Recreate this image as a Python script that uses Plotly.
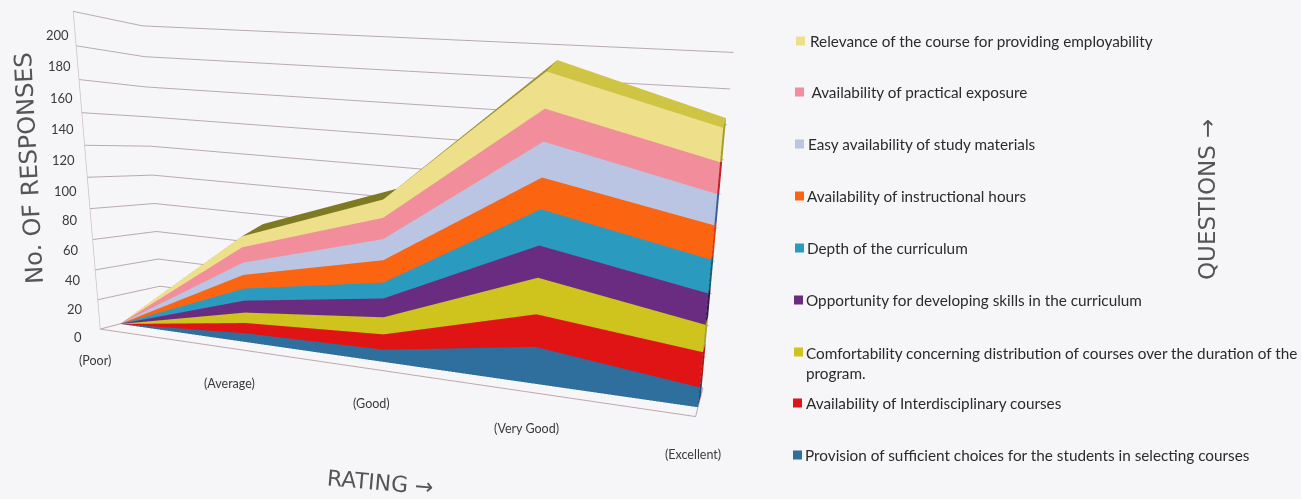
import plotly.graph_objects as go

W, H = 1301, 499

# ---- data (bottom of the stack first) ----
ratings = ["(Poor)", "(Average)", "(Good)", "(Very Good)", "(Excellent)"]
rating_pos = [0, 1, 2, 3, 4]
z_ticks = [200, 180, 160, 140, 120, 100, 80, 60, 40, 20, 0]
names = [
    "Provision of sufficient choices for the students in selecting courses",
    "Availability of Interdisciplinary courses",
    "Comfortability concerning distribution of courses over the duration of the<br>program.",
    "Opportunity for developing skills in the curriculum",
    "Depth of the curriculum",
    "Availability of instructional hours",
    "Easy availability of study materials",
    " Availability of practical exposure",
    "Relevance of the course for providing employability",
]
provision = [0, 6, 8, 23, 12]
interdisciplinary = [0, 7, 10, 20, 21]
comfortability = [0, 7, 11, 22, 16]
opportunity = [0, 8, 12, 19, 18]
depth = [0, 8, 10, 21, 19]
instructional = [0, 9, 14, 18, 19]
study_materials = [0, 8, 13, 20, 17]
practical = [0, 10, 13, 18, 17]
relevance = [0, 7, 11, 20, 18]
series = [provision, interdisciplinary, comfortability, opportunity, depth,
          instructional, study_materials, practical, relevance]

# ---- styles ----
colors = ["#2e6f9e", "#e01414", "#cfc41e", "#6a2c80", "#2a9bbf", "#fb6410", "#b9c5e2", "#f28d9b", "#eedf8a"]
side = ["#1d4a78", "#b01818", "#a8a22a", "#2d1a4d", "#145f72", "#d9400e", "#3b5f9a", "#c4202a", "#a6a02a"]
cap_colors = ["#8f8a2a", "#7d7a22", "#9a9430", "#cfc444"]
cap_tilt = [0, 6, 6, 8.5, 6]   # slight rise of the back edge of the block's top face
y0, y1 = 0.298, 0.702          # block's position in the depth of the box
BG = "#f6f6f8"

fig = go.Figure()
lo = [0] * 5
for i, vals in enumerate(series):
    hi = [a + b for a, b in zip(lo, vals)]
    X, Y, Z, I, J, K, fc = [], [], [], [], [], [], []

    def quad(a, b, c, d, col):
        n = len(X)
        for q in (a, b, c, d):
            X.append(q[0]); Y.append(q[1]); Z.append(q[2])
        I.extend([n, n]); J.extend([n + 1, n + 2]); K.extend([n + 2, n + 3]); fc.extend([col, col])

    for k in range(4):
        quad((rating_pos[k], y0, lo[k]), (rating_pos[k + 1], y0, lo[k + 1]),
             (rating_pos[k + 1], y0, hi[k + 1]), (rating_pos[k], y0, hi[k]), colors[i])
    is_top = i == len(series) - 1
    back_hi = [h + t for h, t in zip(hi, cap_tilt)] if is_top else hi
    quad((4, y0, lo[4]), (4, y1, lo[4]), (4, y1, back_hi[4]), (4, y0, hi[4]), side[i])
    if is_top:
        for k, c in enumerate(cap_colors):
            quad((rating_pos[k], y0, hi[k]), (rating_pos[k + 1], y0, hi[k + 1]),
                 (rating_pos[k + 1], y1, back_hi[k + 1]), (rating_pos[k], y1, back_hi[k]), c)
    fig.add_trace(go.Mesh3d(x=X, y=Y, z=Z, i=I, j=J, k=K, facecolor=fc, flatshading=True,
                            lighting=dict(ambient=1, diffuse=0, specular=0, fresnel=0),
                            name=names[i].replace("<br>", " "), hoverinfo="name"))
    lo = hi

fig.add_trace(go.Scatter3d(x=[0, 0, 4, 4], y=[1, 0, 0, 1], z=[0, 0, 0, 0], mode="lines",
                           line=dict(color="#bda9ad", width=2), hoverinfo="skip"))
fig.add_trace(go.Scatter3d(x=[0, 0], y=[0, 0], z=[0, 200], mode="lines",
                           line=dict(color="#cdbfc3", width=1.5), hoverinfo="skip"))

ann, shapes = [], []


def label(text, px, py, **kw):
    d = dict(text=text, x=px / W, y=1 - py / H, xref="paper", yref="paper", showarrow=False,
             xanchor="center", yanchor="middle")
    d.update(kw)
    ann.append(d)


z_px = [(57, 35), (59, 66), (61, 98), (62, 129), (63, 160), (65, 191), (70, 220), (71, 250), (73, 280), (75, 309), (78, 337)]
for z, (a, b) in zip(z_ticks, z_px):
    label(str(z), a, b, font=dict(family="Lato", size=13, color="#3a3a3a"))
x_px = [(95, 360), (229, 383), (371, 403), (526, 428), (693, 454)]
for t, (a, b) in zip(ratings, x_px):
    label(t, a, b, font=dict(family="Lato", size=12.5, color="#3a3a3a"))

leg_y = [455, 403, 352, 300, 248, 196, 144, 92, 41]
leg_tx = [803, 804, 804, 804, 805, 805, 806, 806, 808]
leg_sx = [793, 793, 794, 794, 795, 795, 795, 795, 796]
for i, n in enumerate(names):
    yc = leg_y[i] + (11 if "<br>" in n else 0)
    label(n, leg_tx[i], yc, xanchor="left", align="left",
          font=dict(family="Lato", size=15.3, color="#2b2b2b"))
    shapes.append(dict(type="rect", xref="paper", yref="paper",
                       x0=leg_sx[i] / W, x1=(leg_sx[i] + 9) / W,
                       y0=1 - (leg_y[i] - 4.5) / H, y1=1 - (leg_y[i] + 4.5) / H,
                       fillcolor=colors[i], line=dict(width=0)))

hand = dict(family="DejaVu Sans", color="#555555")
label("No. OF RESPONSES", 29, 168, textangle=-93, font=dict(size=24, **hand))
label("RATING →", 380, 482, textangle=5, font=dict(size=22, **hand))
label("QUESTIONS →", 1207, 200, textangle=-90, font=dict(size=23, **hand))

axis_off = dict(showgrid=False, showticklabels=False, title="", showbackground=False,
                zeroline=False, showspikes=False)
fig.update_layout(
    width=W, height=H, margin=dict(l=0, r=0, t=0, b=0), paper_bgcolor=BG, showlegend=False,
    annotations=ann, shapes=shapes,
    scene=dict(
        domain=dict(x=[0, 1], y=[0, 1]), aspectmode="manual",
        aspectratio=dict(x=1.980, y=0.210, z=1),
        xaxis=dict(range=[0, 4], **axis_off),
        yaxis=dict(range=[0, 1], **axis_off),
        zaxis=dict(range=[0, 200], dtick=20, gridcolor="#b8a9ad", showticklabels=False, title="",
                   showbackground=False, zeroline=False, showspikes=False),
        camera=dict(eye=dict(x=1.099, y=-1.670, z=0.222),
                    center=dict(x=0.521, y=1.698, z=-0.359),
                    up=dict(x=-0.071, y=-0.010, z=1)),
    ),
)
fig.write_html("out.html", config=dict(displayModeBar=False),
               post_script="document.body.style.margin='0';document.body.style.background='#f6f6f8'")
